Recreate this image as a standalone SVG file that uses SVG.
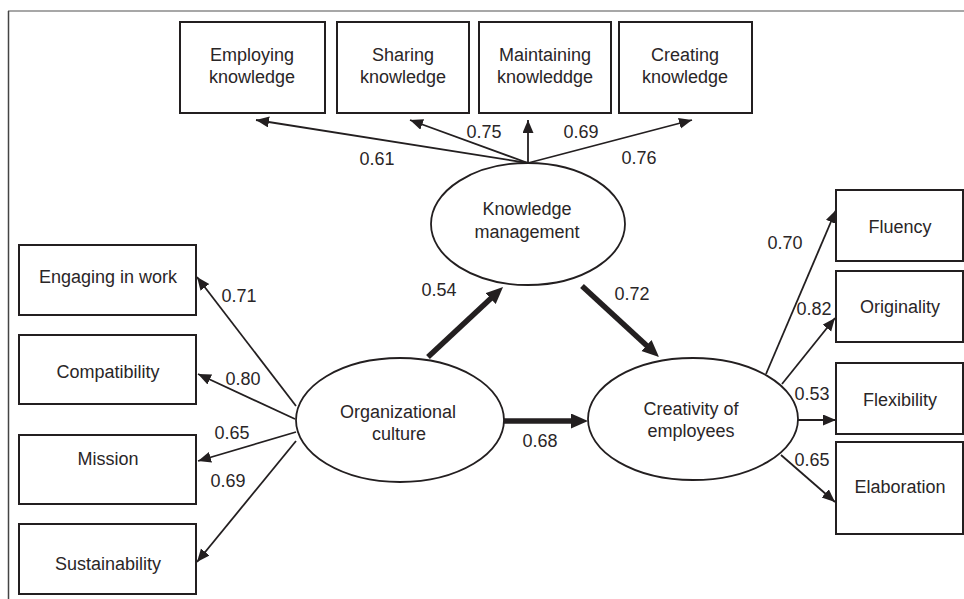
<svg xmlns="http://www.w3.org/2000/svg" width="964" height="599" viewBox="0 0 964 599">
  <style>
    .box { fill: #ffffff; stroke: #231f20; stroke-width: 2; }
    .lat { fill: #ffffff; stroke: #231f20; stroke-width: 1.8; }
    .t { font-family: "Liberation Sans", Arial, sans-serif; font-size: 18px; fill: #2a2627; text-anchor: middle; }
    .thin { stroke: #231f20; stroke-width: 1.8; fill: none; marker-end: url(#ah); }
    .thick { stroke: #231f20; stroke-width: 5.5; fill: none; marker-end: url(#ahb); }
  </style>
  <defs>
    <marker id="ah" markerUnits="userSpaceOnUse" markerWidth="14" markerHeight="12" refX="13" refY="5.5" orient="auto">
      <path d="M0,0 L13,5.5 L0,11 z" fill="#231f20"/>
    </marker>
    <marker id="ahb" markerUnits="userSpaceOnUse" markerWidth="18" markerHeight="16" refX="9" refY="7.5" orient="auto">
      <path d="M0,0 L17,7.5 L0,15 z" fill="#231f20"/>
    </marker>
  </defs>

  <rect width="964" height="599" fill="#ffffff"/>
  <!-- frame -->
  <line x1="8" y1="11" x2="964" y2="11" stroke="#8a8a8a" stroke-width="1.5"/>
  <line x1="8.5" y1="11" x2="8.5" y2="599" stroke="#444" stroke-width="1.5"/>

  <!-- connectors -->
  <g id="connectors">
    <!-- knowledge management indicators -->
    <line class="thin" x1="528" y1="163" x2="256" y2="120"/>
    <line class="thin" x1="528" y1="163" x2="410" y2="120"/>
    <line class="thin" x1="528" y1="163" x2="528" y2="120"/>
    <line class="thin" x1="528" y1="163" x2="692" y2="120"/>
    <!-- organizational culture indicators -->
    <line class="thin" x1="296" y1="406" x2="197" y2="277"/>
    <line class="thin" x1="295" y1="419" x2="198" y2="374"/>
    <line class="thin" x1="296" y1="432" x2="198" y2="461"/>
    <line class="thin" x1="296" y1="441" x2="197" y2="562"/>
    <!-- creativity indicators -->
    <line class="thin" x1="766" y1="374" x2="836" y2="210"/>
    <line class="thin" x1="782" y1="384" x2="835" y2="318"/>
    <line class="thin" x1="798" y1="420" x2="836" y2="420"/>
    <line class="thin" x1="781" y1="455" x2="835" y2="502"/>
    <!-- structural paths -->
    <line class="thick" x1="428" y1="357" x2="497.2" y2="292.5"/>
    <line class="thick" x1="582" y1="286" x2="653.1" y2="351.6"/>
    <line class="thick" x1="504" y1="421" x2="580" y2="421"/>

    <g class="labels">
      <text class="t" x="377" y="165">0.61</text>
      <text class="t" x="484" y="138">0.75</text>
      <text class="t" x="581" y="138">0.69</text>
      <text class="t" x="639" y="164">0.76</text>
      <text class="t" x="239" y="302">0.71</text>
      <text class="t" x="243" y="385">0.80</text>
      <text class="t" x="232" y="439">0.65</text>
      <text class="t" x="228" y="487">0.69</text>
      <text class="t" x="439" y="296">0.54</text>
      <text class="t" x="632" y="300">0.72</text>
      <text class="t" x="540" y="447">0.68</text>
      <text class="t" x="785" y="249">0.70</text>
      <text class="t" x="814" y="315">0.82</text>
      <text class="t" x="812" y="400">0.53</text>
      <text class="t" x="812" y="466">0.65</text>
    </g>
  </g>

  <!-- top indicators -->
  <g id="employing">
    <rect class="box" x="180" y="22" width="145" height="91"/>
    <text class="t" x="252" y="61">Employing</text>
    <text class="t" x="252" y="83">knowledge</text>
  </g>
  <g id="sharing">
    <rect class="box" x="337" y="22" width="132" height="91"/>
    <text class="t" x="403" y="61">Sharing</text>
    <text class="t" x="403" y="83">knowledge</text>
  </g>
  <g id="maintaining">
    <rect class="box" x="479" y="22" width="132" height="91"/>
    <text class="t" x="545" y="61">Maintaining</text>
    <text class="t" x="545" y="83">knowleddge</text>
  </g>
  <g id="creating">
    <rect class="box" x="619" y="22" width="133" height="91"/>
    <text class="t" x="685" y="61">Creating</text>
    <text class="t" x="685" y="83">knowledge</text>
  </g>

  <!-- left indicators -->
  <g id="engaging">
    <rect class="box" x="19" y="245" width="177" height="70"/>
    <text class="t" x="108" y="283">Engaging in work</text>
  </g>
  <g id="compatibility">
    <rect class="box" x="19" y="335" width="177" height="69"/>
    <text class="t" x="108" y="378">Compatibility</text>
  </g>
  <g id="mission">
    <rect class="box" x="19" y="435" width="177" height="69"/>
    <text class="t" x="108" y="465">Mission</text>
  </g>
  <g id="sustainability">
    <rect class="box" x="19" y="524" width="177" height="70"/>
    <text class="t" x="108" y="570">Sustainability</text>
  </g>

  <!-- right indicators -->
  <g id="fluency">
    <rect class="box" x="836" y="190" width="127" height="71"/>
    <text class="t" x="900" y="233">Fluency</text>
  </g>
  <g id="originality">
    <rect class="box" x="836" y="271" width="127" height="71"/>
    <text class="t" x="900" y="313">Originality</text>
  </g>
  <g id="flexibility">
    <rect class="box" x="836" y="363" width="127" height="71"/>
    <text class="t" x="900" y="406">Flexibility</text>
  </g>
  <g id="elaboration">
    <rect class="box" x="836" y="442" width="127" height="92"/>
    <text class="t" x="900" y="493">Elaboration</text>
  </g>

  <!-- latent variables -->
  <g id="knowledge-management">
    <ellipse class="lat" cx="528" cy="224" rx="97" ry="61"/>
    <text class="t" x="527" y="215">Knowledge</text>
    <text class="t" x="527" y="238">management</text>
  </g>
  <g id="organizational-culture">
    <ellipse class="lat" cx="400" cy="420" rx="104" ry="62"/>
    <text class="t" x="398" y="418">Organizational</text>
    <text class="t" x="399" y="440">culture</text>
  </g>
  <g id="creativity">
    <ellipse class="lat" cx="693" cy="419" rx="105" ry="61"/>
    <text class="t" x="691" y="415">Creativity of</text>
    <text class="t" x="691" y="437">employees</text>
  </g>
</svg>
